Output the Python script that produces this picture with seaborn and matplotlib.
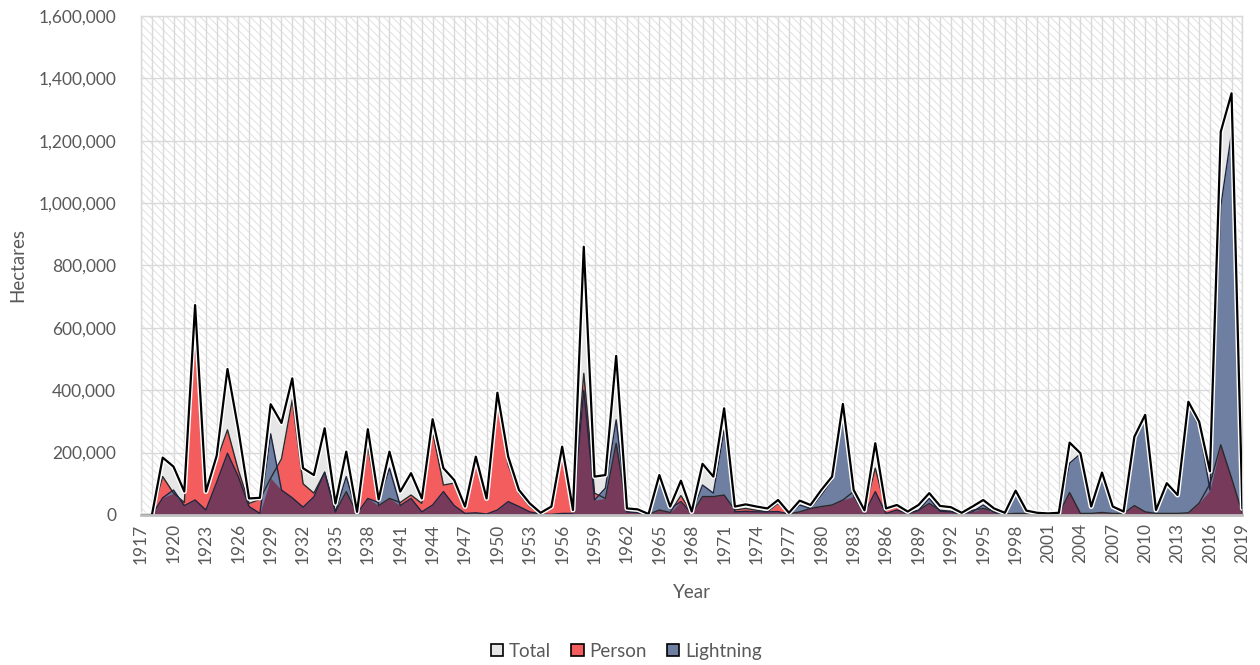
import numpy as np
import pandas as pd
import seaborn as sns
import matplotlib.pyplot as plt
import matplotlib.patheffects as pe
from matplotlib.patches import Patch, Rectangle
from matplotlib.ticker import FuncFormatter, MultipleLocator

# Jahre 1917 - 2019
years = list(range(1917, 2020))

total = [
    0, 0, 184000, 155000, 75000, 673000, 75000, 190000, 468000, 275000,
    53000, 55000, 355000, 295000, 438000, 150000, 128000, 278000, 37000, 203000,
    10000, 275000, 50000, 203000, 75000, 134000, 53000, 307000, 150000, 112000,
    27000, 187000, 53000, 392000, 187000, 80000, 37000, 7000, 27000, 219000,
    16000, 860000, 123000, 128000, 510000, 21000, 18000, 3000, 128000, 27000,
    110000, 11000, 164000, 123000, 342000, 27000, 34000, 27000, 21000, 48000,
    7000, 46000, 32000, 80000, 123000, 356000, 80000, 15000, 230000, 21000,
    32000, 11000, 32000, 70000, 29000, 25000, 7000, 27000, 48000, 21000,
    7000, 78000, 14000, 7000, 5000, 7000, 232000, 198000, 27000, 136000,
    27000, 11000, 251000, 321000, 16000, 102000, 64000, 363000, 299000, 140000,
    1229000, 1352000, 21000,
]

person = [
    0, 0, 123000, 70000, 40000, 570000, 70000, 175000, 273000, 144000,
    37000, 50000, 118000, 180000, 369000, 100000, 70000, 137000, 10000, 75000,
    5000, 219000, 30000, 53000, 40000, 64000, 37000, 267000, 96000, 102000,
    27000, 187000, 53000, 370000, 160000, 70000, 27000, 3000, 27000, 219000,
    10000, 454000, 70000, 53000, 230000, 10000, 8000, 2000, 16000, 8000,
    62000, 5000, 59000, 59000, 64000, 16000, 21000, 15000, 10000, 37000,
    4000, 10000, 21000, 27000, 32000, 48000, 75000, 10000, 150000, 15000,
    27000, 5000, 15000, 37000, 15000, 12000, 3000, 15000, 21000, 12000,
    3000, 5000, 5000, 3000, 2000, 3000, 72000, 5000, 5000, 8000,
    5000, 5000, 30000, 10000, 5000, 5000, 5000, 7000, 38000, 100000,
    225000, 118000, 5000,
]

lightning = [
    0, 0, 55000, 80000, 30000, 48000, 16000, 105000, 198000, 123000,
    27000, 5000, 260000, 80000, 55000, 25000, 58000, 137000, 10000, 123000,
    5000, 53000, 40000, 150000, 30000, 53000, 10000, 32000, 75000, 30000,
    5000, 7000, 3000, 16000, 43000, 27000, 10000, 3000, 2000, 5000,
    5000, 400000, 48000, 86000, 305000, 10000, 8000, 1000, 118000, 20000,
    43000, 5000, 96000, 70000, 273000, 10000, 12000, 10000, 10000, 11000,
    3000, 32000, 21000, 64000, 112000, 337000, 60000, 5000, 75000, 5000,
    16000, 5000, 15000, 53000, 12000, 10000, 4000, 10000, 32000, 8000,
    4000, 78000, 8000, 4000, 3000, 4000, 166000, 196000, 25000, 136000,
    22000, 8000, 240000, 321000, 12000, 100000, 60000, 353000, 283000, 80000,
    990000, 1225000, 16000,
]

df = pd.DataFrame({"Year": years, "Total": total, "Person": person, "Lightning": lightning})
df["Both"] = np.minimum(df["Person"], df["Lightning"])

c_total = "#e6e6e6"
c_person = "#f45d5d"
c_light = "#6e7fa2"
c_both = "#783a5b"
c_text = "#595959"
c_grid = "#d9d9d9"

sns.set_theme(style="white")
plt.rcParams["font.family"] = ["Lato", "DejaVu Sans"]
plt.rcParams["hatch.color"] = "#dcdcdc"
plt.rcParams["hatch.linewidth"] = 0.6

fig = plt.figure(figsize=(12.6, 6.65), dpi=100)
ax = fig.add_axes([0.112, 0.2256, 0.874, 0.7504])

# schraffierter Hintergrund
ax.add_patch(Rectangle((0, 0), 1, 1, transform=ax.transAxes, facecolor="white",
                       edgecolor="#dcdcdc", linewidth=0, hatch="\\\\\\\\", zorder=0))

ax.fill_between(df["Year"], 0, df["Total"], color=c_total, zorder=2, linewidth=0)
ax.fill_between(df["Year"], 0, df["Person"], color=c_person, zorder=3, linewidth=0)
ax.fill_between(df["Year"], 0, df["Lightning"], color=c_light, zorder=4, linewidth=0)
ax.fill_between(df["Year"], 0, df["Both"], color=c_both, zorder=5, linewidth=0)

sns.lineplot(data=df, x="Year", y="Person", color="#2a2a2a", linewidth=1.0, ax=ax, zorder=6)
sns.lineplot(data=df, x="Year", y="Lightning", color="#1f2540", linewidth=1.0, ax=ax, zorder=6)
sns.lineplot(data=df, x="Year", y="Total", color="black", linewidth=1.6, ax=ax, zorder=7,
             path_effects=[pe.Stroke(linewidth=3.6, foreground="white"), pe.Normal()])

ax.set_xlim(1917, 2019)
ax.set_ylim(0, 1600000)
ax.xaxis.set_major_locator(MultipleLocator(3))
ax.xaxis.set_minor_locator(MultipleLocator(1))
ax.yaxis.set_major_locator(MultipleLocator(200000))
ax.yaxis.set_major_formatter(FuncFormatter(lambda v, p: f"{v:,.0f}"))

ax.grid(True, which="both", axis="x", color=c_grid, linewidth=1.0, zorder=1)
ax.grid(True, which="major", axis="y", color=c_grid, linewidth=1.0, zorder=1)
ax.set_axisbelow(True)

ax.tick_params(axis="x", which="both", length=0, pad=6, labelsize=12.5, labelcolor=c_text, labelrotation=90)
ax.tick_params(axis="y", length=0, pad=18, labelsize=12.5, labelcolor=c_text)

for s in ["top", "right", "left"]:
    ax.spines[s].set_color(c_grid)
    ax.spines[s].set_linewidth(1.0)
ax.spines["bottom"].set_color("#bfbfbf")
ax.spines["bottom"].set_linewidth(2.0)
ax.spines["bottom"].set_zorder(8)

ax.set_xlabel("Year", fontsize=13.5, color=c_text)
ax.set_ylabel("Hectares", fontsize=13.5, color=c_text)
ax.xaxis.set_label_coords(0.5, -0.138)
ax.yaxis.set_label_coords(-0.104, 0.5)

handles = [
    Patch(facecolor=c_total, edgecolor="black", linewidth=1.2, label="Total"),
    Patch(facecolor=c_person, edgecolor="black", linewidth=1.2, label="Person"),
    Patch(facecolor=c_light, edgecolor="black", linewidth=1.2, label="Lightning"),
]
leg = fig.legend(handles=handles, loc="center", bbox_to_anchor=(0.497, 0.021), ncol=3,
                 frameon=False, fontsize=13.5, handlelength=0.65, handleheight=0.65,
                 handletextpad=0.3, columnspacing=1.1)
for t in leg.get_texts():
    t.set_color(c_text)

fig.savefig("out.png", dpi=100)
